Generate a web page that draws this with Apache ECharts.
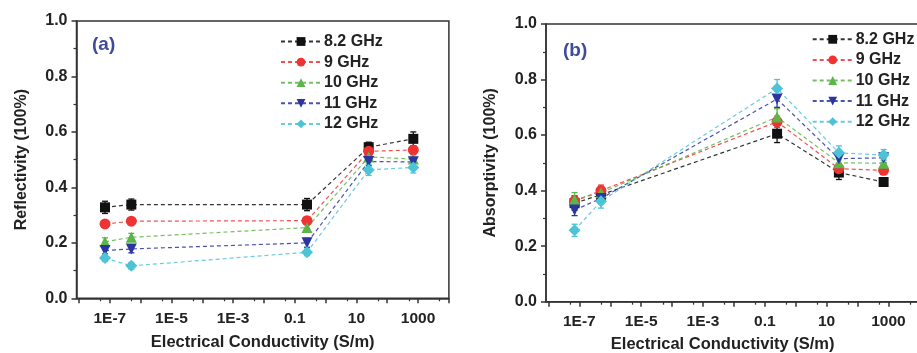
<!DOCTYPE html>
<html>
<head>
<meta charset="utf-8">
<script src="https://cdn.jsdelivr.net/npm/echarts@6/dist/echarts.min.js"></script>
<style>html,body{margin:0;padding:0;background:#fff}#c{width:917px;height:353px}</style>
</head>
<body>
<div id="c"></div>
<script>
// ---- data ----
const conductivity = [7e-8, 5e-7, 0.25, 25, 700];
const seriesNames = ['8.2 GHz', '9 GHz', '10 GHz', '11 GHz', '12 GHz'];
const xTickExponents = [-7, -5, -3, -1, 1, 3];
const xTickLabels = ['1E-7', '1E-5', '1E-3', '0.1', '10', '1000'];
const yTickLabels = ['0.0', '0.2', '0.4', '0.6', '0.8', '1.0'];

const refl82 = [0.328, 0.338, 0.338, 0.545, 0.575];
const refl9  = [0.268, 0.278, 0.280, 0.530, 0.535];
const refl10 = [0.204, 0.220, 0.255, 0.510, 0.502];
const refl11 = [0.172, 0.178, 0.200, 0.493, 0.492];
const refl12 = [0.145, 0.117, 0.166, 0.463, 0.472];
const reflErr82 = [0.022, 0.020, 0.022, 0.018, 0.025];
const reflErr9  = [0.012, 0.012, 0.014, 0.015, 0.015];
const reflErr10 = [0.014, 0.014, 0.014, 0.015, 0.015];
const reflErr11 = [0.012, 0.014, 0.016, 0.015, 0.015];
const reflErr12 = [0.012, 0.012, 0.012, 0.020, 0.020];

const abs82 = [0.355, 0.385, 0.605, 0.465, 0.431];
const abs9  = [0.362, 0.400, 0.648, 0.479, 0.473];
const abs10 = [0.368, 0.392, 0.665, 0.500, 0.499];
const abs11 = [0.330, 0.372, 0.730, 0.515, 0.518];
const abs12 = [0.257, 0.362, 0.768, 0.536, 0.528];
const absErr82 = [0.025, 0.020, 0.032, 0.025, 0.015];
const absErr9  = [0.020, 0.020, 0.020, 0.018, 0.015];
const absErr10 = [0.025, 0.018, 0.030, 0.018, 0.015];
const absErr11 = [0.020, 0.018, 0.030, 0.018, 0.018];
const absErr12 = [0.022, 0.025, 0.032, 0.025, 0.020];

// ---- styles ----
const colors = ['#111111', '#ee3333', '#5bb548', '#2c34a0', '#4cc3d6'];
const symbols = ['rect', 'circle', 'triangle', 'triangle', 'diamond'];
const symbolRotates = [0, 0, 0, 180, 0];
const symbolSizes = [10, 11, 11, 11, 12];
const FONT = '"Liberation Sans", Arial, sans-serif';
const TXT = '#222';

const panels = [
  { yName: 'Reflectivity (100%)', values: [refl82, refl9, refl10, refl11, refl12],
    errs: [reflErr82, reflErr9, reflErr10, reflErr11, reflErr12] },
  { yName: 'Absorptivity (100%)', values: [abs82, abs9, abs10, abs11, abs12],
    errs: [absErr82, absErr9, absErr10, absErr11, absErr12] }
];

const X_MIN = -8.08, X_MAX = 4;
const majorTicks = [];
for (let e = -8; e <= 4; e++) majorTicks.push(e);
const minorTicks = [];
for (let e = -8; e < 4; e++) minorTicks.push(e + Math.log10(5));

const grids = [
  { left: 76.5, top: 21, width: 372.4, height: 277.3, show: true, borderColor: '#333', borderWidth: 1.5,
    containLabel: false, outerBoundsMode: 'none' },
  { left: 546, top: 24, width: 373.3, height: 277.7, show: true, borderColor: '#333', borderWidth: 1.5,
    containLabel: false, outerBoundsMode: 'none' }
];

const xAxes = [], yAxes = [], series = [];
panels.forEach((p, gi) => {
  xAxes.push({
    type: 'value', gridIndex: gi, min: X_MIN, max: X_MAX, position: 'bottom',
    name: 'Electrical Conductivity (S/m)', nameLocation: 'middle',
    nameGap: gi === 0 ? 36 : 34,
    nameTextStyle: { fontFamily: FONT, fontWeight: 'bold', fontSize: 16.5, color: TXT,
      padding: gi === 0 ? [0, 0, 0, 0] : [0, 20, 0, 0] },
    axisLine: { onZero: false, lineStyle: { color: '#333', width: 1.5 } },
    axisTick: { show: true, inside: false, length: 5, customValues: majorTicks, lineStyle: { color: '#333', width: 1.5 } },
    axisLabel: { customValues: xTickExponents, margin: 12, fontFamily: FONT, fontWeight: 'bold', fontSize: 15.5, color: TXT,
      formatter: v => { const i = xTickExponents.findIndex(e => Math.abs(e - v) < 1e-6); return i >= 0 ? xTickLabels[i] : ''; } },
    splitLine: { show: false }
  });
  // minor ticks overlay
  xAxes.push({
    type: 'value', gridIndex: gi, min: X_MIN, max: X_MAX, position: 'bottom', offset: 0,
    axisLine: { show: false, onZero: false },
    axisTick: { show: true, length: 3, customValues: minorTicks, lineStyle: { color: '#333', width: 1.2 } },
    axisLabel: { show: false }, splitLine: { show: false }
  });
  yAxes.push({
    type: 'value', gridIndex: gi, min: 0, max: 1, interval: 0.2, position: 'left',
    name: p.yName, nameLocation: 'middle', nameRotate: 90, nameGap: 47,
    nameTextStyle: { fontFamily: FONT, fontWeight: 'bold', fontSize: 16, color: TXT },
    axisLine: { show: true, onZero: false, lineStyle: { color: '#333', width: 1.5 } },
    axisTick: { show: true, length: 5, lineStyle: { color: '#333', width: 1.5 } },
    minorTick: { show: true, splitNumber: 2, length: 3, lineStyle: { color: '#333', width: 1.2 } },
    axisLabel: { margin: 9, fontFamily: FONT, fontWeight: 'bold', fontSize: 16, color: TXT,
      formatter: v => yTickLabels[Math.round(v / 0.2)] },
    splitLine: { show: false }
  });
  const xi = gi * 2;
  p.values.forEach((vals, si) => {
    const errs = p.errs[si];
    series.push({
      type: 'custom', xAxisIndex: xi, yAxisIndex: gi, silent: true, z: 1,
      data: vals.map((v, k) => [Math.log10(conductivity[k]), v, errs[k]]),
      renderItem: (params, api) => {
        const x = api.value(0), y = api.value(1), e = api.value(2);
        const top = api.coord([x, y + e]), bot = api.coord([x, y - e]);
        const st = { stroke: colors[si], lineWidth: 1.3 };
        return { type: 'group', children: [
          { type: 'line', shape: { x1: top[0], y1: top[1], x2: bot[0], y2: bot[1] }, style: st },
          { type: 'line', shape: { x1: top[0] - 3, y1: top[1], x2: top[0] + 3, y2: top[1] }, style: st },
          { type: 'line', shape: { x1: bot[0] - 3, y1: bot[1], x2: bot[0] + 3, y2: bot[1] }, style: st }
        ] };
      }
    });
    series.push({
      name: seriesNames[si], type: 'line', xAxisIndex: xi, yAxisIndex: gi, z: 3,
      data: vals.map((v, k) => [Math.log10(conductivity[k]), v]),
      symbol: symbols[si], symbolRotate: symbolRotates[si], symbolSize: symbolSizes[si],
      showAllSymbol: true,
      itemStyle: { color: colors[si] },
      lineStyle: { color: colors[si], width: 1.2, type: [4, 3], opacity: 0.85 },
      animation: false
    });
  });
});

const legendBase = {
  data: seriesNames, orient: 'vertical', padding: 0,
  itemWidth: 40, itemHeight: 11, itemGap: 4.6,
  textStyle: { fontFamily: FONT, fontWeight: 'bold', fontSize: 16, color: TXT, lineHeight: 16, padding: [0, 0, 0, -2] }
};

const option = {
  backgroundColor: '#fff',
  animation: false,
  grid: grids,
  xAxis: xAxes,
  yAxis: yAxes,
  legend: [
    Object.assign({}, legendBase, { left: 280, top: 33.5 }),
    Object.assign({}, legendBase, { left: 811.7, top: 31.3 })
  ],
  series: series,
  graphic: [
    { type: 'text', left: 92, top: 35, style: { text: '(a)', fontFamily: FONT, fontWeight: 'bold', fontSize: 19, fill: '#3d4a9e' } },
    { type: 'text', left: 563, top: 41, style: { text: '(b)', fontFamily: FONT, fontWeight: 'bold', fontSize: 19, fill: '#3d4a9e' } }
  ]
};

const chart = echarts.init(document.getElementById('c'), null, { renderer: 'canvas' });
chart.setOption(option);
</script>
</body>
</html>
